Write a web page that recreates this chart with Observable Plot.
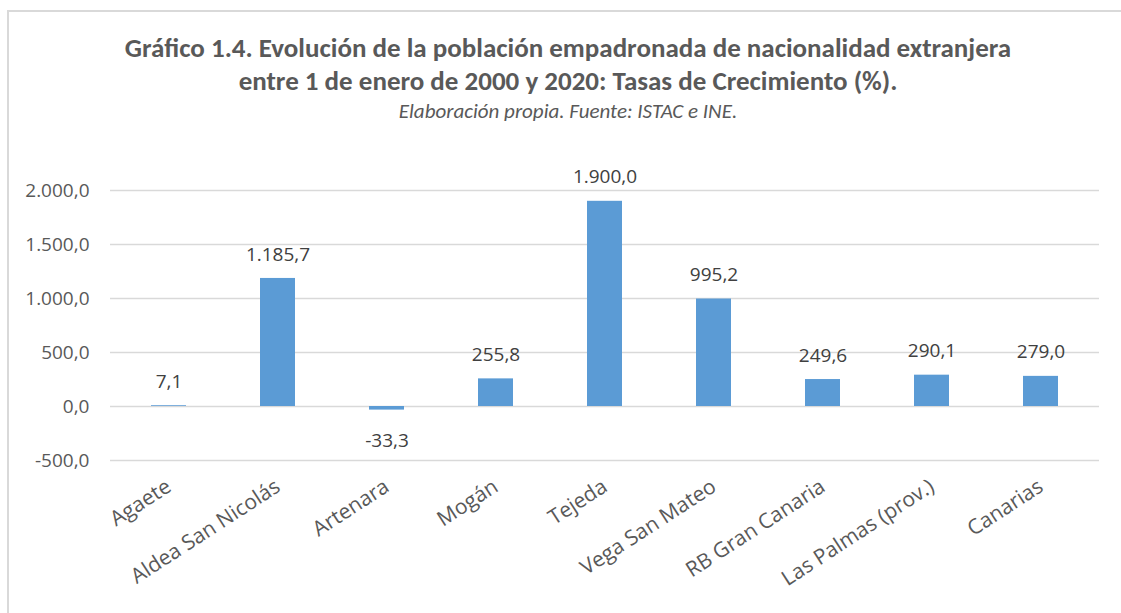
<!DOCTYPE html>
<html>
<head>
<meta charset="utf-8">
<script src="https://cdn.jsdelivr.net/npm/d3@7"></script>
<script src="https://cdn.jsdelivr.net/npm/@observablehq/plot@0.6"></script>
<style>
  html, body { margin: 0; padding: 0; background: #fff; }
  #wrap { position: relative; width: 1121px; height: 613px; overflow: hidden; }
  #frame { position: absolute; left: 7px; top: 10px; width: 1130px; height: 620px;
           border-left: 2px solid #d9d9d9; border-top: 2px solid #d9d9d9; }
  .title { position: absolute; left: 0; width: 1136px; text-align: center;
           font-family: "Carlito", "Liberation Sans Narrow", "Open Sans", sans-serif;
           font-weight: bold; font-size: 27px; line-height: 33px; color: #595959; white-space: nowrap; }
  .sub { position: absolute; left: 0; width: 1136px; text-align: center;
         font-family: "Carlito", "Liberation Sans Narrow", "Open Sans", sans-serif;
         font-style: italic; font-size: 21px; line-height: 26px; color: #595959; }
  #chart { position: absolute; left: 0; top: 150px; }
</style>
</head>
<body>
<div id="wrap">
  <div id="frame"></div>
  <div class="title" style="top:31px">Gráfico 1.4. Evolución de la población empadronada de nacionalidad extranjera</div>
  <div class="title" style="top:64px">entre 1 de enero de 2000 y 2020: Tasas de Crecimiento (%).</div>
  <div class="sub" style="top:98px">Elaboración propia. Fuente: ISTAC e INE.</div>
  <div id="chart"></div>
</div>
<script>
const categories = ["Agaete", "Aldea San Nicolás", "Artenara", "Mogán", "Tejeda", "Vega San Mateo", "RB Gran Canaria", "Las Palmas (prov.)", "Canarias"];
const values = [7.1, 1185.7, -33.3, 255.8, 1900.0, 995.2, 249.6, 290.1, 279.0];
const yTicks = [-500, 0, 500, 1000, 1500, 2000];

const data = categories.map((c, i) => ({cat: c, value: values[i]}));
const loc = d3.formatLocale({decimal: ",", thousands: ".", grouping: [3], currency: ["", " €"], minus: "-"});
const fmt = loc.format(",.1f");

const chart = Plot.plot({
  width: 1121,
  height: 463,
  marginLeft: 110,
  marginRight: 22,
  marginTop: 40,
  marginBottom: 153,
  style: {fontFamily: "'Open Sans', sans-serif", background: "transparent", overflow: "visible"},
  x: {domain: categories, paddingInner: 0.68, paddingOuter: 0.34, label: null},
  y: {domain: [-500, 2000], label: null},
  marks: [
    Plot.gridY(yTicks, {stroke: "#d9d9d9", strokeOpacity: 1, strokeWidth: 1.5}),
    Plot.barY(data, {x: "cat", y: "value", fill: "#5B9BD5"}),
    Plot.text(data.filter(d => d.value >= 0), {x: "cat", y: "value", text: d => fmt(d.value), dy: -24, fill: "#404040", fontSize: 19}),
    Plot.text(data.filter(d => d.value < 0), {x: "cat", y: "value", text: d => fmt(d.value), dy: 31, fill: "#404040", fontSize: 19}),
    Plot.axisY(yTicks, {tickSize: 0, tickPadding: 21, tickFormat: fmt, fontSize: 19, fill: "#595959", label: null}),
    Plot.axisX({tickSize: 0, tickRotate: -33, tickPadding: 24, fontSize: 21, fill: "#595959", label: null})
  ]
});
document.getElementById("chart").appendChild(chart);
</script>
</body>
</html>
